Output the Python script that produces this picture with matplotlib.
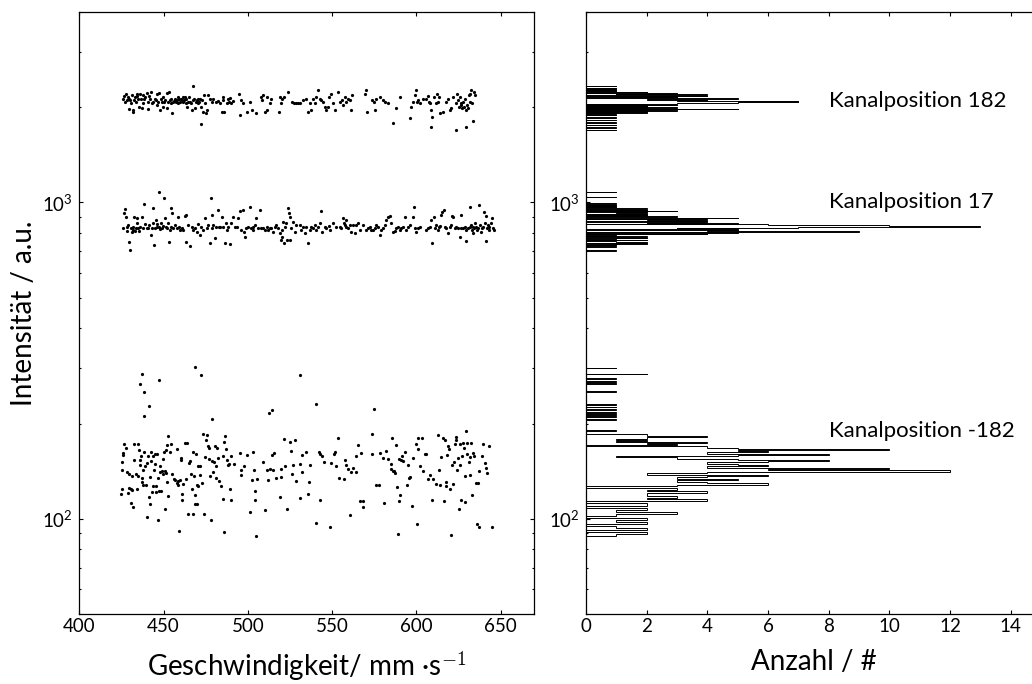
import numpy as np
import matplotlib
matplotlib.use("Agg")
import matplotlib.pyplot as plt

plt.rcParams['font.family'] = ['Lato', 'DejaVu Sans']
plt.rcParams['mathtext.fontset'] = 'cm'

# ---------------- scatter data (Geschwindigkeit, Intensität) ----------------
top_x = [426.1, 426.7, 427.1, 427.7, 428.1, 428.7, 429.3, 429.6, 430.0, 430.4, 431.0, 431.6, 432.0, 432.4, 433.0,
         433.6, 434.0, 434.4, 435.0, 435.6, 436.0, 436.6, 437.0, 437.6, 438.0, 438.5, 439.1, 439.9, 440.5, 440.9,
         441.5, 441.9, 442.5, 442.9, 443.9, 444.9, 445.5, 445.9, 446.2, 446.8, 447.4, 447.8, 448.4, 448.8, 449.4,
         449.8, 450.4, 451.0, 451.8, 452.2, 452.8, 453.4, 453.8, 454.2, 454.7, 455.3, 455.7, 456.3, 456.7, 457.3,
         457.7, 458.3, 458.7, 459.3, 459.7, 460.3, 460.7, 461.3, 461.7, 462.2, 462.6, 463.2, 463.6, 464.2, 464.6,
         465.2, 465.6, 466.2, 466.8, 467.2, 467.6, 468.2, 468.8, 469.2, 469.6, 470.2, 470.5, 471.1, 471.5, 472.1,
         472.5, 473.1, 473.5, 473.9, 474.5, 475.1, 475.5, 476.5, 477.5, 478.5, 479.4, 481.4, 482.4, 483.4, 484.4,
         485.0, 485.4, 485.8, 487.4, 488.3, 488.9, 489.3, 489.9, 491.3, 494.9, 495.2, 496.2, 497.2, 499.8, 501.2,
         502.2, 505.1, 508.1, 508.7, 509.1, 510.1, 511.1, 511.6, 513.0, 514.0, 518.6, 519.0, 519.4, 520.5, 521.3,
         523.9, 526.5, 527.3, 528.4, 529.8, 531.2, 532.8, 534.8, 535.8, 536.7, 537.7, 538.7, 539.7, 540.7, 541.7,
         542.7, 543.7, 544.6, 545.6, 546.6, 547.6, 548.2, 549.2, 550.6, 551.6, 553.5, 554.9, 556.1, 556.5, 557.5,
         558.5, 559.5, 560.9, 561.4, 562.0, 569.3, 569.9, 570.7, 573.9, 574.7, 575.3, 576.3, 578.2, 580.2, 581.2,
         583.2, 586.1, 587.7, 590.1, 596.0, 597.0, 598.0, 599.0, 599.6, 600.4, 601.0, 602.0, 603.9, 605.9, 606.9,
         607.5, 608.3, 608.9, 608.9, 609.5, 610.3, 611.4, 612.2, 612.8, 613.4, 614.2, 615.8, 617.8, 618.8, 619.7,
         620.7, 621.7, 623.3, 623.7, 624.3, 624.7, 625.3, 625.7, 626.3, 626.7, 627.2, 627.6, 628.2, 628.6, 629.2,
         629.6, 630.0, 630.6, 631.2, 631.6, 632.0, 632.6, 633.2, 633.6, 634.2, 634.8]
top_y = [2116, 2168, 2080, 2210, 2105, 2157, 2131, 1972, 2105, 2055, 2183, 1958, 1934, 2105, 2157,
         2080, 2210, 2168, 2131, 2006, 2210, 2116, 1982, 2055, 2183, 2131, 2157, 2221, 1972, 2080,
         2168, 2131, 2237, 2055, 2080, 2131, 2105, 2030, 2210, 2080, 2221, 1958, 2116, 2080, 2157,
         2006, 2080, 2105, 2221, 1982, 2080, 2232, 2105, 2055, 2131, 1911, 2080, 2095, 2116, 2080,
         2105, 2157, 2055, 2116, 2080, 2131, 2105, 2147, 2080, 2105, 2157, 2055, 2116, 2006, 2080,
         2147, 2080, 2055, 1958, 2331, 2105, 2131, 1982, 2080, 2105, 2131, 2055, 2080, 2116, 1768,
         2006, 2105, 1934, 2183, 2055, 1920, 1958, 2183, 2116, 2080, 2131, 2080, 2090, 2055, 1934,
         2157, 2105, 1934, 2055, 2116, 2070, 2142, 2055, 2095, 2210, 1888, 2105, 2055, 1934, 2080,
         1958, 1920, 2157, 2105, 2183, 1934, 2157, 1958, 2055, 2116, 1934, 2157, 2065, 2131, 2157,
         2237, 2080, 2055, 2065, 2055, 2055, 2105, 2116, 1934, 2055, 1958, 2131, 2055, 2157, 2264,
         2116, 2105, 2080, 2006, 1958, 2006, 2157, 2210, 2055, 1958, 2237, 2080, 2105, 2030, 2157,
         2080, 2131, 2105, 1958, 2183, 2210, 2264, 1934, 2105, 2080, 1958, 2131, 2157, 2105, 2080,
         2055, 1777, 1982, 2157, 1843, 2006, 2080, 2183, 2264, 2080, 2105, 2055, 2131, 2131, 2168,
         2080, 2055, 1958, 1734, 1866, 2157, 2055, 2210, 2080, 2147, 1911, 1934, 2080, 2131, 1958,
         1982, 2157, 1693, 2055, 2210, 2105, 2006, 2157, 2055, 2030, 1982, 2080, 2006, 2131, 1958,
         1734, 2030, 1982, 2183, 2080, 2210, 2264, 2055, 1807, 2237, 2183]

mid_x = [426.1, 426.7, 427.1, 427.5, 428.1, 428.5, 429.1, 429.4, 430.0, 430.4, 431.0, 431.6, 432.0, 432.6, 433.0,
         433.6, 434.0, 434.4, 435.0, 435.6, 436.0, 437.0, 438.0, 438.5, 439.1, 439.9, 440.9, 441.5, 442.3, 442.9,
         443.5, 443.9, 444.5, 444.9, 445.5, 445.9, 446.2, 447.0, 447.4, 447.8, 448.4, 449.0, 449.8, 450.4, 450.8,
         451.4, 451.8, 452.8, 453.4, 453.8, 454.2, 454.7, 455.3, 455.7, 456.7, 457.7, 458.3, 458.9, 459.7, 460.7,
         461.7, 462.6, 463.2, 463.6, 464.6, 465.6, 466.6, 467.6, 468.6, 469.6, 470.5, 471.5, 472.5, 473.5, 474.5,
         475.5, 476.5, 477.5, 477.9, 478.5, 479.0, 479.4, 480.4, 481.4, 482.4, 483.0, 483.4, 484.4, 485.4, 486.4,
         486.9, 487.4, 488.3, 489.3, 490.3, 491.3, 492.3, 493.3, 494.3, 495.2, 495.8, 497.2, 497.8, 498.2, 499.2,
         500.2, 501.2, 501.8, 502.8, 503.2, 504.1, 505.1, 506.1, 507.1, 508.1, 509.1, 510.1, 511.1, 512.0, 513.0,
         514.0, 515.0, 516.0, 517.0, 518.0, 519.0, 519.6, 520.0, 520.5, 520.9, 521.3, 521.9, 522.5, 523.3, 523.9,
         524.3, 524.9, 525.3, 525.9, 526.9, 527.9, 528.8, 530.8, 531.8, 532.8, 533.8, 534.8, 535.8, 536.7, 537.7,
         538.7, 539.7, 540.7, 541.7, 542.7, 543.7, 544.3, 545.6, 546.6, 548.2, 549.0, 550.6, 552.6, 554.5, 555.5,
         556.5, 557.1, 557.5, 558.1, 558.5, 559.5, 560.5, 561.4, 562.4, 563.4, 564.4, 565.4, 566.4, 568.4, 570.3,
         571.3, 572.3, 573.3, 574.3, 575.3, 576.3, 577.3, 578.2, 579.2, 580.2, 581.2, 582.2, 583.2, 584.2, 585.2,
         586.1, 587.1, 588.1, 589.1, 590.1, 591.1, 592.1, 593.1, 594.0, 595.0, 596.0, 598.0, 598.6, 599.0, 599.6,
         601.0, 602.0, 605.9, 606.9, 607.9, 608.9, 609.5, 610.3, 610.8, 611.8, 612.8, 613.4, 613.8, 614.8, 615.4,
         616.2, 616.8, 617.8, 618.8, 619.7, 620.7, 621.3, 621.7, 622.7, 623.7, 624.7, 625.7, 626.3, 626.7, 627.6,
         628.6, 629.2, 629.6, 630.6, 631.6, 632.0, 632.6, 633.2, 633.6, 633.9, 634.5, 635.1, 635.5, 635.9, 636.5,
         637.1, 637.5, 638.1, 638.7, 639.5, 640.1, 640.5, 641.1, 641.5, 641.9, 642.5, 643.0, 643.4, 644.4, 645.0,
         645.4, 646.0]
mid_y = [829, 924, 951, 902, 839, 813, 849, 752, 705, 829, 809, 819, 839, 902, 815,
         829, 860, 891, 829, 815, 839, 902, 829, 987, 854, 829, 829, 849, 790, 829,
         958, 860, 735, 829, 881, 839, 856, 1082, 839, 823, 860, 829, 843, 1035, 891,
         839, 833, 860, 752, 819, 839, 958, 924, 829, 849, 829, 902, 839, 819, 829,
         819, 906, 752, 913, 849, 726, 839, 819, 829, 805, 854, 790, 839, 819, 891,
         829, 849, 743, 1035, 913, 829, 849, 771, 839, 947, 839, 839, 902, 839, 747,
         860, 819, 839, 740, 860, 902, 839, 839, 891, 940, 819, 947, 809, 780, 829,
         839, 970, 829, 839, 819, 849, 891, 829, 947, 829, 829, 819, 839, 819, 829,
         829, 809, 839, 849, 829, 799, 761, 819, 780, 870, 743, 839, 860, 761, 958,
         924, 902, 761, 829, 870, 809, 849, 849, 819, 839, 799, 839, 743, 819, 839,
         829, 849, 819, 839, 860, 942, 809, 839, 829, 845, 819, 860, 839, 839, 829,
         891, 864, 849, 881, 839, 829, 849, 809, 849, 799, 849, 860, 819, 849, 819,
         829, 839, 819, 819, 829, 849, 839, 790, 819, 829, 849, 881, 902, 906, 860,
         809, 815, 829, 839, 819, 829, 839, 898, 819, 839, 849, 902, 970, 829, 809,
         829, 839, 819, 829, 839, 881, 747, 898, 829, 849, 819, 839, 843, 913, 935,
         947, 839, 829, 803, 839, 849, 909, 902, 829, 839, 829, 780, 913, 833, 829,
         839, 754, 819, 829, 839, 970, 849, 819, 839, 799, 829, 860, 839, 819, 829,
         982, 849, 809, 829, 839, 935, 860, 906, 756, 829, 849, 819, 839, 860, 891,
         829, 819]

bot_x = [437.2, 436.2, 438.5, 441.5, 438.1, 447.4, 468.6, 472.3, 478.5, 512.4, 514.4, 530.8, 540.3, 574.9, 573.9,
         424.5, 425.1, 425.3, 425.5, 425.7, 426.1, 426.7, 427.5, 428.1, 428.7, 429.3, 429.6, 430.4, 430.6, 431.0,
         431.4, 432.0, 432.4, 432.6, 433.4, 434.0, 434.6, 435.0, 435.4, 436.0, 436.2, 436.6, 437.0, 437.2, 437.6,
         438.0, 438.3, 439.1, 439.7, 439.9, 440.3, 440.9, 441.3, 441.7, 441.9, 442.3, 442.5, 443.1, 443.5, 443.9,
         444.3, 444.7, 445.1, 445.5, 445.7, 445.9, 446.6, 446.8, 447.2, 447.8, 448.0, 448.6, 449.0, 449.4, 449.8,
         450.2, 450.8, 451.0, 451.4, 451.6, 451.8, 452.2, 452.8, 452.8, 453.8, 454.2, 455.1, 456.3, 456.7, 457.7,
         457.9, 458.3, 458.7, 459.3, 459.7, 460.1, 460.3, 460.7, 461.1, 461.7, 462.8, 463.6, 464.2, 464.6, 465.2,
         465.6, 466.0, 466.8, 467.2, 467.6, 468.0, 468.4, 468.8, 469.2, 469.6, 470.0, 470.4, 470.7, 471.5, 471.9,
         472.7, 473.3, 473.9, 474.3, 474.9, 475.5, 476.1, 476.7, 477.1, 477.5, 478.1, 478.8, 479.4, 479.8, 480.4,
         481.0, 481.4, 481.8, 482.4, 483.0, 483.8, 485.0, 485.4, 485.8, 485.8, 486.2, 487.0, 487.4, 488.0, 488.7,
         489.3, 489.9, 490.3, 491.7, 495.2, 495.8, 496.2, 497.8, 499.8, 501.4, 502.6, 503.2, 503.7, 504.1, 504.5,
         505.1, 505.5, 508.9, 509.9, 511.6, 512.0, 513.0, 514.2, 514.8, 515.6, 516.6, 519.0, 519.4, 519.8, 521.7,
         522.3, 523.3, 524.9, 525.7, 526.5, 527.1, 527.9, 528.8, 530.8, 531.2, 532.0, 532.4, 534.8, 535.8, 536.3,
         536.7, 540.3, 542.3, 542.7, 543.1, 543.9, 545.4, 548.8, 549.4, 551.2, 551.8, 552.6, 553.3, 554.1, 557.1,
         557.7, 558.5, 559.7, 560.7, 561.4, 562.4, 564.0, 564.4, 565.6, 566.6, 567.0, 568.2, 568.6, 573.9, 575.9,
         577.9, 578.4, 580.2, 580.6, 582.2, 583.2, 584.8, 585.1, 585.7, 586.1, 586.7, 587.5, 587.9, 588.5, 589.1,
         589.5, 589.9, 590.5, 590.9, 591.3, 592.1, 593.1, 594.6, 595.2, 595.6, 596.0, 597.2, 598.0, 599.6, 600.6,
         601.0, 601.2, 602.0, 603.1, 603.9, 605.1, 605.9, 607.1, 607.9, 609.1, 610.1, 611.8, 613.0, 613.6, 614.2,
         614.8, 615.8, 616.4, 616.8, 617.4, 617.8, 618.2, 619.0, 619.5, 620.1, 620.7, 621.3, 621.7, 622.3, 622.9,
         623.3, 623.7, 624.3, 624.7, 625.1, 625.7, 625.9, 626.5, 626.9, 627.4, 628.0, 628.6, 629.0, 629.6, 629.8,
         630.2, 631.0, 631.6, 632.0, 632.6, 633.0, 633.6, 634.2, 635.5, 636.1, 636.7, 636.9, 637.1, 638.7, 639.5,
         640.5, 641.1, 641.9, 642.9, 645.0]
bot_y = [286, 266, 252, 228, 211, 275, 301, 285, 207, 216, 220, 285, 230, 222, 185,
         120, 124, 143, 151.5, 158.6, 161, 172, 167, 140.5, 121, 139, 125, 124, 112.5, 123,
         137, 109, 172, 153, 139, 124, 172, 137, 165, 153, 147.5, 157.5, 134.5, 130.6, 128,
         143, 162.8, 147, 127.5, 101.6, 150, 158, 117.5, 111.7, 136, 162.5, 152, 121.5, 127, 158,
         143, 160, 149, 127, 121.6, 160, 99, 135, 122, 147, 141, 122, 141.5, 154, 139,
         162, 141.5, 107, 140, 164.5, 130.6, 171, 182.5, 118, 162.5, 172, 138.5, 134, 133, 165.7,
         130, 131.6, 128, 91.8, 132.5, 153.7, 156, 115, 120, 128.5, 173, 134, 173, 103.7, 150.4,
         152, 139, 124.5, 162.8, 103.5, 136.5, 111, 119, 160, 128, 111, 146.5, 127, 137.5, 147,
         130, 186, 103.7, 156.8, 178, 184, 170, 154, 168, 137, 99, 152, 141, 151, 170,
         147, 135, 168, 156, 131.6, 127, 158, 115.8, 91, 175.5, 183, 165.7, 153, 148, 148.6,
         124, 114.6, 158, 148.6, 161.7, 137.5, 143, 147, 159, 105.3, 132.5, 162, 143, 115, 122,
         88.3, 134, 151, 106.6, 143, 133, 143.6, 158.6, 143, 161.7, 135, 117.5, 143.6, 135.5, 179,
         146.5, 107.2, 175, 163.7, 139, 148, 178, 132, 116.6, 149, 158.6, 140.5, 162, 120, 131,
         147.5, 97.3, 162, 160.5, 114.3, 158, 151.5, 94, 150.4, 160.5, 162, 146.8, 179.5, 135, 134,
         153.7, 147.5, 144, 103, 141, 145, 158, 140.5, 171, 114, 161, 109, 113.5, 160, 128,
         128, 161, 156, 112.5, 163.7, 154.5, 149, 144, 179.5, 142, 141.5, 139.8, 170.6, 126, 89.8,
         113.5, 155, 119, 153.7, 158, 152.5, 162, 127.5, 147.5, 134.5, 135.5, 109.5, 156, 172, 96,
         166, 180.5, 146.8, 179.5, 141.5, 160, 160, 134, 138, 114.3, 134, 129, 184.3, 143, 127.5,
         157, 179.5, 113.5, 178, 127.2, 131, 159.5, 169.7, 165.7, 124, 89, 148, 129, 151, 172,
         178, 181.5, 143, 156, 107.5, 172, 148, 114.6, 158, 174, 167, 137, 113, 189, 160,
         174, 151, 138, 157, 173, 118.6, 161.7, 158, 129.4, 96.5, 129.4, 94, 141.5, 158, 172,
         150.4, 145, 139.8, 170, 94]

# ---------------- histogram data (Anzahl per bin) ----------------
hist_top_range = (1690, 2350)
hist_top_counts = [1, 0, 0, 0, 0, 1, 0, 0, 0, 0, 1, 0, 0, 0, 0, 1, 0, 0, 0, 0,
                   1, 0, 0, 0, 0, 1, 0, 0, 0, 0, 1, 0, 0, 1,
                   0, 2, 0, 2, 0, 3, 0, 2, 5, 0, 2, 0, 3, 0, 2, 0, 2, 3, 0, 2, 0, 3,
                   3, 5, 7, 5, 7, 5, 3, 4,
                   2, 4, 5, 2, 4,
                   0, 3, 1, 4, 0, 3, 0, 4, 1, 3, 0, 3, 1, 2,
                   0, 1, 0, 0, 1, 0, 0, 1, 0, 1,
                   0, 0, 0, 0, 1, 0, 0]
hist_mid_range = (700, 1090)
hist_mid_counts = [0, 1, 0, 0, 0, 0, 1, 0, 1, 0, 2, 0, 2, 1, 0, 2, 0, 1, 2, 0,
                   2, 0, 1, 0, 4, 0, 5, 0, 9, 4, 5, 0, 5, 3, 7, 13, 11, 10, 6, 0,
                   5, 2, 4, 0, 4, 2, 4, 0, 3, 5, 0, 3, 0, 2, 0, 2, 0, 2, 1, 2,
                   0, 3, 0, 2, 0, 2, 1, 0, 1, 0, 1, 0, 1, 0, 1, 0, 0, 0, 0, 0,
                   0, 0, 0, 0, 0, 0, 0, 1, 0, 0, 0, 0, 0, 0, 0, 0, 0, 1, 0, 0]
hist_bot_range = (88, 302)
hist_bot_counts = [1, 2, 0, 2, 1, 0, 2, 1,
                   2, 0, 1, 3, 1, 2, 0, 2,
                   2, 0, 4,
                   2, 3, 2, 2, 4, 2, 3,
                   0, 3, 6, 4, 3,
                   5, 3, 4, 6, 2, 4,
                   12, 6, 10, 4, 6,
                   5, 4, 6, 8, 5, 3,
                   1, 5, 8, 4, 6, 5, 10, 5, 4,
                   0, 3, 2, 4,
                   1, 2, 1,
                   2, 4, 2, 2, 0,
                   0, 0, 1,
                   0, 0, 0, 0, 0, 0, 0, 0, 0, 0,
                   1, 0, 0, 1, 0, 0, 1, 0, 1, 0, 0, 1, 0, 0, 1, 0, 0, 1,
                   0, 0, 0, 0, 0, 0, 0, 0, 0, 0, 0, 0, 0, 0, 0, 1, 0, 0, 0, 0,
                   0, 0, 0, 0, 0, 1, 0, 0, 1, 0, 0, 0, 1, 0, 0, 0, 0, 0, 0, 2,
                   0, 0, 0, 0, 0, 0, 0, 0, 1, 0]

labels = ['Kanalposition 182', 'Kanalposition 17', 'Kanalposition -182']
label_y = [2100, 1000, 190]

# ---------------- figure ----------------
fig = plt.figure(figsize=(10.32, 6.84), dpi=100)
ax1 = fig.add_axes([0.07684, 0.10234, 0.44089, 0.88012])
ax2 = fig.add_axes([0.56783, 0.10234, 0.44089, 0.88012])

for xs, ys in [(top_x, top_y), (mid_x, mid_y), (bot_x, bot_y)]:
    ax1.plot(xs, ys, linestyle='none', marker='o', markersize=2.3,
             markerfacecolor='k', markeredgecolor='k', markeredgewidth=0)

for rng, counts in [(hist_top_range, hist_top_counts),
                    (hist_mid_range, hist_mid_counts),
                    (hist_bot_range, hist_bot_counts)]:
    edges = np.linspace(rng[0], rng[1], len(counts) + 1)
    ax2.stairs(counts, edges, orientation='horizontal', color='k', linewidth=0.7)

for t, yv in zip(labels, label_y):
    ax2.text(8, yv, t, fontsize=16, va='center', ha='left')

for ax in (ax1, ax2):
    ax.set_yscale('log')
    ax.set_ylim(50, 4000)
    ax.tick_params(which='both', direction='in', top=True, right=True,
                   labelsize=13.5, width=0.8)
    ax.tick_params(which='major', length=3.2)
    ax.tick_params(which='minor', length=1.6)
    ax.tick_params(axis='x', pad=3)
    ax.tick_params(axis='y', pad=4.5)
    for s in ax.spines.values():
        s.set_linewidth(0.9)

ax1.set_xlim(400, 670)
ax1.set_xticks([400, 450, 500, 550, 600, 650])
ax2.set_xlim(0, 15)
ax2.set_xticks([0, 2, 4, 6, 8, 10, 12, 14])

ax1.set_ylabel('Intensität / a.u.', fontsize=20, labelpad=4)
ax1.set_xlabel('Geschwindigkeit/ mm ·s$^{-1}$', fontsize=20, labelpad=10)
ax2.set_xlabel('Anzahl / #', fontsize=20, labelpad=10)

fig.savefig('out.png', dpi=100)
